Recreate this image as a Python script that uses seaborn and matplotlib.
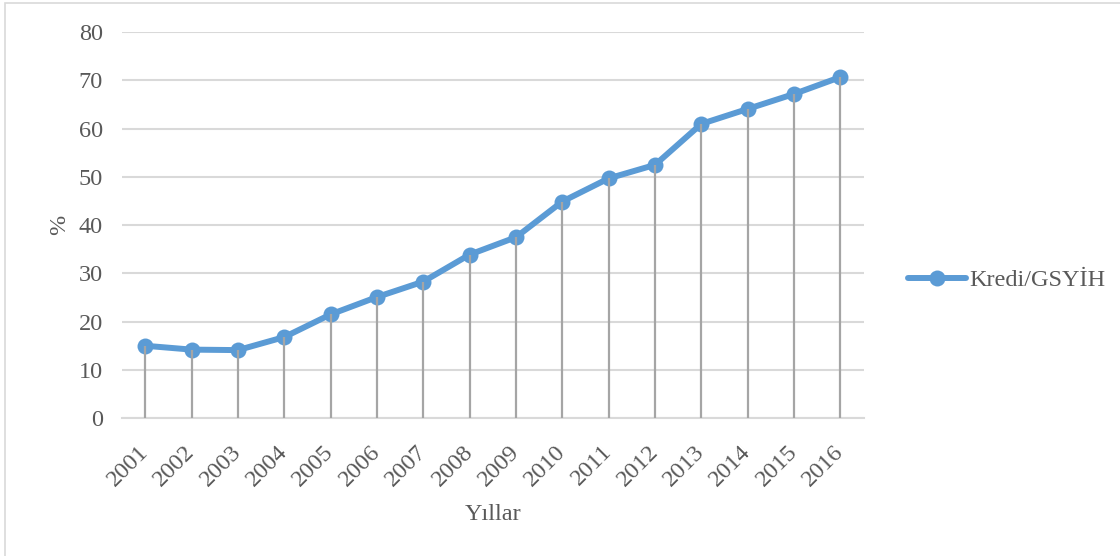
import matplotlib
matplotlib.use("Agg")
import matplotlib.pyplot as plt
import seaborn as sns
import pandas as pd
from matplotlib.patches import Rectangle

years = ["2001", "2002", "2003", "2004", "2005", "2006", "2007", "2008",
         "2009", "2010", "2011", "2012", "2013", "2014", "2015", "2016"]
values = [15.0, 14.2, 14.1, 16.8, 21.5, 25.1, 28.3, 33.9,
          37.5, 44.9, 49.7, 52.5, 61.0, 64.1, 67.2, 70.7]
series_name = "Kredi/GSYİH"
y_ticks = [0, 10, 20, 30, 40, 50, 60, 70, 80]

df = pd.DataFrame({"Yıl": years, "Değer": values, "Seri": series_name})

sns.set_theme(style="white")
plt.rcParams["font.family"] = ["Liberation Serif", "DejaVu Serif"]

fig = plt.figure(figsize=(11.2, 5.56), dpi=100)
ax = fig.add_axes([0.109, 0.248, 0.662, 0.694])

blue = "#5b9bd5"
sns.lineplot(data=df, x="Yıl", y="Değer", hue="Seri", palette=[blue],
             marker="o", markersize=11.5, markeredgewidth=0, linewidth=4.3,
             ax=ax, zorder=3, sort=False)

pos = list(range(len(years)))
ax.vlines(pos, 0, values, colors="#a5a5a5", linewidth=1.6, zorder=4)

ax.set_xlim(-0.5, len(years) - 0.5)
ax.set_ylim(0, 80)
ax.set_yticks(y_ticks)
ax.yaxis.grid(True, color="#d9d9d9", linewidth=1.5)
ax.set_axisbelow(True)
for s in ["top", "right", "left"]:
    ax.spines[s].set_visible(False)
ax.spines["bottom"].set_color("#d9d9d9")
ax.spines["bottom"].set_linewidth(1.5)

ax.tick_params(axis="y", length=0, pad=14, labelsize=17.5, labelcolor="#595959")
ax.tick_params(axis="x", length=0, pad=22, labelsize=17.5, labelcolor="#595959")
ax.set_xticks(pos)
ax.set_xticklabels(years, rotation=45, ha="right", va="center",
                   rotation_mode="anchor")

ax.set_xlabel("Yıllar", fontsize=17.5, color="#595959", labelpad=10)
ax.set_ylabel("%", fontsize=17.5, color="#595959", labelpad=6)

leg = ax.legend(loc="center left", bbox_to_anchor=(1.03, 0.357),
                frameon=False, fontsize=17.5, handlelength=2.4,
                handletextpad=0.15, labelcolor="#595959")

fig.patches.append(Rectangle((5 / 1120, -0.05), 1.1, 1 - 3 / 556 + 0.05,
                             transform=fig.transFigure, fill=False,
                             edgecolor="#d9d9d9", linewidth=1.2))

fig.savefig("out.png", dpi=100)
